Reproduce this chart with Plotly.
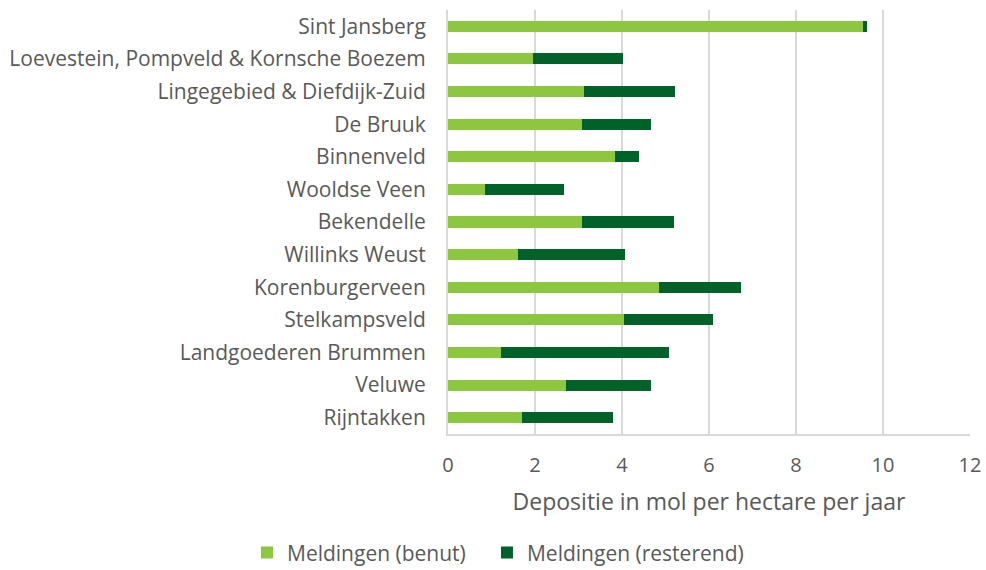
import plotly.graph_objects as go

categories = ["Sint Jansberg", "Loevestein, Pompveld & Kornsche Boezem", "Lingegebied & Diefdijk-Zuid",
              "De Bruuk", "Binnenveld", "Wooldse Veen", "Bekendelle", "Willinks Weust",
              "Korenburgerveen", "Stelkampsveld", "Landgoederen Brummen", "Veluwe", "Rijntakken"]
benut = [9.55, 1.95, 3.12, 3.09, 3.83, 0.86, 3.08, 1.62, 4.84, 4.04, 1.22, 2.71, 1.71]
resterend = [0.09, 2.08, 2.10, 1.58, 0.57, 1.81, 2.11, 2.45, 1.90, 2.05, 3.87, 1.95, 2.09]
x_ticks = [0, 2, 4, 6, 8, 10, 12]

FONT = "Open Sans"
GREY = "#595959"

fig = go.Figure()
fig.add_trace(go.Bar(y=categories, x=benut, orientation="h", name="Meldingen (benut)",
                     marker=dict(color="#8DC63F", line=dict(width=0)), width=0.34,
                     legend="legend"))
fig.add_trace(go.Bar(y=categories, x=resterend, orientation="h", name="Meldingen (resterend)",
                     marker=dict(color="#006228", line=dict(width=0)), width=0.34,
                     legend="legend2"))

leg_common = dict(orientation="h", xref="container", yref="container", xanchor="left",
                  y=0.03, yanchor="middle", font=dict(size=21, color=GREY))

fig.update_layout(
    barmode="stack",
    width=986, height=570,
    margin=dict(l=448, r=16, t=10, b=136, autoexpand=False),
    plot_bgcolor="white", paper_bgcolor="white",
    font=dict(family=FONT, color=GREY, size=21),
    showlegend=True,
    legend=dict(x=0.2505, **leg_common),
    legend2=dict(x=0.4939, **leg_common),
    xaxis=dict(range=[0, 12], tickvals=x_ticks, showgrid=True, gridcolor="#D9D9D9", gridwidth=2,
               zeroline=False, showline=True, linecolor="#D9D9D9", linewidth=2,
               ticks="", ticklabelstandoff=12, ticklabeloverflow="allow",
               tickfont=dict(size=20, color=GREY),
               title=dict(text="Depositie in mol per hectare per jaar", standoff=17,
                          font=dict(size=23, color=GREY))),
    yaxis=dict(categoryorder="array", categoryarray=categories[::-1], autorange=True,
               showline=True, linecolor="#D9D9D9", linewidth=2, ticks="",
               ticklabelstandoff=16, tickfont=dict(size=21, color=GREY), showgrid=False),
)

fig.write_html("out.html", config={"displayModeBar": False},
               post_script="document.body.style.margin='0';")
